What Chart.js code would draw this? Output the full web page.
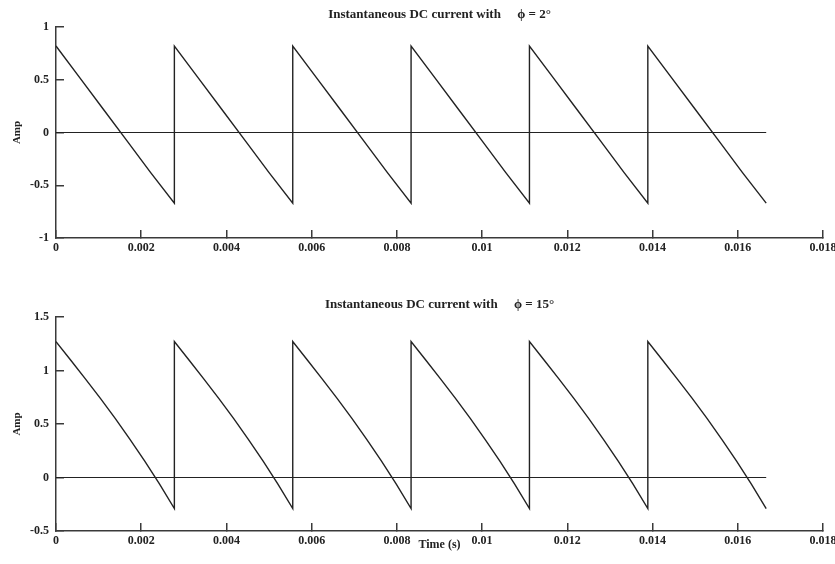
<!DOCTYPE html>
<html>
<head>
<meta charset="utf-8">
<title>Instantaneous DC current</title>
<script src="https://cdn.jsdelivr.net/npm/chart.js@4"></script>
<style>
  html, body { margin: 0; padding: 0; background: #fff; }
  #wrap { position: relative; width: 835px; height: 564px; }
  #topChart { position: absolute; left: 0; top: 0; }
  #bottomChart { position: absolute; left: 0; top: 290px; }
</style>
</head>
<body>
<div id="wrap">
  <canvas id="topChart" width="835" height="262"></canvas>
  <canvas id="bottomChart" width="835" height="274"></canvas>
</div>
<script>
// phi = 2 deg trace (time in s, current in A); each jump repeats its time
const timeTop = [
  0, 0.000556, 0.001111, 0.001667, 0.002222, 0.002778,
  0.002778, 0.003333, 0.003889, 0.004444, 0.005, 0.005556,
  0.005556, 0.006111, 0.006667, 0.007222, 0.007778, 0.008333,
  0.008333, 0.008889, 0.009444, 0.01, 0.010556, 0.011111,
  0.011111, 0.011667, 0.012222, 0.012778, 0.013333, 0.013889,
  0.013889, 0.014444, 0.015, 0.015556, 0.016111, 0.016667
];
const ampTop = [
  0.82, 0.52, 0.22, -0.08, -0.38, -0.67,
  0.82, 0.52, 0.22, -0.08, -0.38, -0.67,
  0.82, 0.52, 0.22, -0.08, -0.38, -0.67,
  0.82, 0.52, 0.22, -0.08, -0.38, -0.67,
  0.82, 0.52, 0.22, -0.08, -0.38, -0.67,
  0.82, 0.52, 0.22, -0.08, -0.38, -0.67
];

// phi = 15 deg trace
const timeBottom = [
  0, 0.000347, 0.000694, 0.001042, 0.001389, 0.001736, 0.002083, 0.002431, 0.002778,
  0.002778, 0.003125, 0.003472, 0.003819, 0.004167, 0.004514, 0.004861, 0.005208, 0.005556,
  0.005556, 0.005903, 0.00625, 0.006597, 0.006944, 0.007292, 0.007639, 0.007986, 0.008333,
  0.008333, 0.008681, 0.009028, 0.009375, 0.009722, 0.010069, 0.010417, 0.010764, 0.011111,
  0.011111, 0.011458, 0.011806, 0.012153, 0.0125, 0.012847, 0.013194, 0.013542, 0.013889,
  0.013889, 0.014236, 0.014583, 0.014931, 0.015278, 0.015625, 0.015972, 0.016319, 0.016667
];
const ampBottom = [
  1.27, 1.096, 0.92, 0.739, 0.552, 0.357, 0.153, -0.061, -0.29,
  1.27, 1.096, 0.92, 0.739, 0.552, 0.357, 0.153, -0.061, -0.29,
  1.27, 1.096, 0.92, 0.739, 0.552, 0.357, 0.153, -0.061, -0.29,
  1.27, 1.096, 0.92, 0.739, 0.552, 0.357, 0.153, -0.061, -0.29,
  1.27, 1.096, 0.92, 0.739, 0.552, 0.357, 0.153, -0.061, -0.29,
  1.27, 1.096, 0.92, 0.739, 0.552, 0.357, 0.153, -0.061, -0.29
];

// zero reference line spans one mains cycle
const zeroTime = [0, 0.016667];
const zeroAmp = [0, 0];

const xTicks = [0, 0.002, 0.004, 0.006, 0.008, 0.01, 0.012, 0.014, 0.016, 0.018];
const xTickLabels = ['0', '0.002', '0.004', '0.006', '0.008', '0.01', '0.012', '0.014', '0.016', '0.018'];
const yTicksTop = [-1, -0.5, 0, 0.5, 1];
const yTickLabelsTop = ['-1', '-0.5', '0', '0.5', '1'];
const yTicksBottom = [-0.5, 0, 0.5, 1, 1.5];
const yTickLabelsBottom = ['-0.5', '0', '0.5', '1', '1.5'];

const titleTop = 'Instantaneous DC current with\u00a0\u00a0\u00a0\u00a0 \u03d5 = 2\u00b0';
const titleBottom = 'Instantaneous DC current with\u00a0\u00a0\u00a0\u00a0 \u03d5 = 15\u00b0';

const ink = '#222';
const axisInk = '#3a3a3a';
const serif = '"Liberation Serif", "Times New Roman", serif';

function toPoints(xs, ys) {
  return xs.map((x, i) => ({ x: x, y: ys[i] }));
}

function makeChart(canvasId, opts) {
  const ctx = document.getElementById(canvasId).getContext('2d');
  return new Chart(ctx, {
    type: 'line',
    data: {
      datasets: [
        {
          data: toPoints(opts.time, opts.amp),
          borderColor: ink,
          borderWidth: 1.4,
          pointRadius: 0,
          tension: 0,
          fill: false
        },
        {
          data: toPoints(zeroTime, zeroAmp),
          borderColor: ink,
          borderWidth: 1.2,
          pointRadius: 0,
          fill: false
        }
      ]
    },
    options: {
      responsive: false,
      animation: false,
      layout: { padding: { left: 0, right: 12, top: 0, bottom: 0 } },
      plugins: {
        legend: { display: false },
        tooltip: { enabled: false },
        title: {
          display: true,
          text: opts.title,
          fullSize: false,
          color: ink,
          font: { family: serif, size: 13, weight: 'bold', lineHeight: 1.2 },
          padding: { top: 7, bottom: 4.4 }
        }
      },
      scales: {
        x: {
          type: 'linear',
          min: 0,
          max: 0.018,
          afterBuildTicks: scale => { scale.ticks = xTicks.map(v => ({ value: v })); },
          afterFit: scale => {
            scale.height = opts.xHeight;
            // let the end labels hang past the plot edges
            scale.paddingLeft = 0;
            scale.paddingRight = 0;
          },
          ticks: {
            autoSkip: false,
            maxRotation: 0,
            padding: 11,
            color: ink,
            font: { family: serif, size: 12, weight: 'bold' },
            callback: (value, index) => xTickLabels[index]
          },
          grid: {
            drawOnChartArea: false,
            tickLength: -8,
            color: axisInk,
            lineWidth: 1.5
          },
          border: { color: axisInk, width: 1.5 },
          title: opts.xTitle ? {
            display: true,
            text: opts.xTitle,
            color: ink,
            font: { family: serif, size: 12, weight: 'bold' },
            padding: { top: 0, bottom: 12 }
          } : { display: false }
        },
        y: {
          type: 'linear',
          min: opts.yTicks[0],
          max: opts.yTicks[opts.yTicks.length - 1],
          afterBuildTicks: scale => { scale.ticks = opts.yTicks.map(v => ({ value: v })); },
          afterFit: scale => { scale.width = 56; },
          ticks: {
            padding: 15,
            color: ink,
            font: { family: serif, size: 12, weight: 'bold' },
            callback: (value, index) => opts.yLabels[index]
          },
          grid: {
            drawOnChartArea: false,
            tickLength: -8,
            color: axisInk,
            lineWidth: 1.5
          },
          border: { color: axisInk, width: 1.5 },
          title: {
            display: true,
            text: 'Amp',
            color: ink,
            font: { family: serif, size: 11, weight: 'bold' },
            padding: { top: 11, bottom: 0 }
          }
        }
      }
    }
  });
}

makeChart('topChart', {
  time: timeTop,
  amp: ampTop,
  title: titleTop,
  yTicks: yTicksTop,
  yLabels: yTickLabelsTop,
  xHeight: 24
});

makeChart('bottomChart', {
  time: timeBottom,
  amp: ampBottom,
  title: titleBottom,
  yTicks: yTicksBottom,
  yLabels: yTickLabelsBottom,
  xHeight: 33,
  xTitle: 'Time (s)'
});
</script>
</body>
</html>
